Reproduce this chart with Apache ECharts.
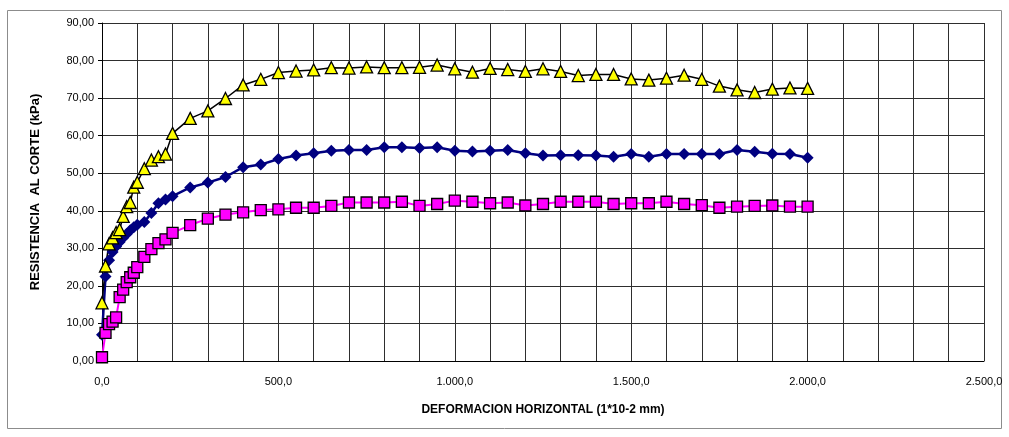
<!DOCTYPE html>
<html>
<head>
    <meta charset="utf-8"/>
    <style>
        html, body { margin: 0; padding: 0; background: #fff; }
        #container { width: 1009px; height: 437px; }
    </style>
</head>
<body>
<div id="container"></div>
<script src="https://cdn.jsdelivr.net/npm/echarts@6/dist/echarts.min.js"></script>
<script type="text/javascript">
    // deformacion horizontal (1*10-2 mm)
    var deformacion = [0, 10, 20, 30, 40, 50, 60, 70, 80, 90, 100, 120, 140, 160, 180, 200,
        250, 300, 350, 400, 450, 500, 550, 600, 650, 700, 750, 800, 850, 900, 950, 1000,
        1050, 1100, 1150, 1200, 1250, 1300, 1350, 1400, 1450, 1500, 1550, 1600, 1650, 1700,
        1750, 1800, 1850, 1900, 1950, 2000];

    // resistencia al corte (kPa)
    var serieRombo = [7.0, 22.5, 26.8, 29.0, 30.5, 31.7, 32.8, 33.8, 34.8, 35.6, 36.3, 37.0, 39.4, 42.0, 43.0, 43.9,
        46.2, 47.5, 49.0, 51.6, 52.3, 53.8, 54.7, 55.3, 56.0, 56.2, 56.2, 56.9, 56.9, 56.7, 56.9, 56.0,
        55.8, 56.0, 56.2, 55.3, 54.7, 54.8, 54.8, 54.7, 54.4, 55.1, 54.4, 55.1, 55.1, 55.1,
        55.1, 56.2, 55.7, 55.2, 55.1, 54.1];
    var serieCuadro = [1.0, 7.5, 9.8, 10.5, 11.6, 17.0, 19.0, 21.0, 22.3, 23.5, 25.0, 27.7, 29.8, 31.4, 32.4, 34.1,
        36.2, 37.9, 39.0, 39.6, 40.2, 40.4, 40.8, 40.8, 41.3, 42.2, 42.2, 42.2, 42.4, 41.3, 41.8, 42.7,
        42.4, 42.0, 42.2, 41.4, 41.8, 42.4, 42.4, 42.4, 41.8, 42.0, 42.0, 42.4, 41.8, 41.5,
        40.8, 41.1, 41.3, 41.4, 41.1, 41.1];
    var serieTriangulo = [15.5, 25.3, 31.2, 32.8, 34.2, 35.0, 38.5, 41.1, 42.2, 46.3, 47.6, 51.2, 53.5, 54.4, 55.1, 60.6,
        64.6, 66.6, 69.9, 73.5, 75.0, 76.8, 77.2, 77.5, 78.1, 78.0, 78.3, 78.1, 78.1, 78.2, 78.8, 77.8,
        76.9, 77.9, 77.6, 77.1, 77.8, 77.1, 76.0, 76.3, 76.3, 75.1, 74.8, 75.3, 76.1, 75.0,
        73.2, 72.2, 71.5, 72.4, 72.7, 72.6];

    function pares(xs, ys) {
        var out = [];
        for (var i = 0; i < xs.length; i++) {
            out.push([xs[i], ys[i]]);
        }
        return out;
    }

    function miles(v, dec) {
        var s = v.toFixed(dec).split('.');
        var ent = s[0].replace(/\B(?=(\d{3})+(?!\d))/g, '.');
        return dec > 0 ? ent + ',' + s[1] : ent;
    }

    var dom = document.getElementById("container");
    var myChart = echarts.init(dom, null, {renderer: 'canvas'});
    var fuente = 'Liberation Sans';

    var option = {
        backgroundColor: '#fff',
        animation: false,
        graphic: [{
            type: 'rect',
            shape: {x: 7.5, y: 10.5, width: 994, height: 418},
            style: {fill: 'none', stroke: '#8c8c8c', lineWidth: 1},
            z: -1
        }],
        grid: {left: 102, right: 25, top: 23, bottom: 76},
        xAxis: {
            type: 'value',
            min: 0,
            max: 2500,
            interval: 100,
            name: 'DEFORMACION HORIZONTAL (1*10-2 mm)',
            nameLocation: 'middle',
            nameGap: 43,
            nameTextStyle: {fontFamily: fuente, fontWeight: 'bold', fontSize: 12, color: '#000'},
            axisLine: {lineStyle: {color: '#000', width: 1}},
            axisTick: {show: false},
            axisLabel: {
                fontFamily: fuente, fontSize: 11, color: '#000', margin: 15,
                formatter: function (v) { return v % 500 === 0 ? miles(v, 1) : ''; }
            },
            splitLine: {show: true, lineStyle: {color: '#2e2e2e', width: 1}}
        },
        yAxis: {
            type: 'value',
            min: 0,
            max: 90,
            interval: 10,
            name: 'RESISTENCIA  AL CORTE (kPa)',
            nameLocation: 'middle',
            nameGap: 60,
            nameTextStyle: {fontFamily: fuente, fontWeight: 'bold', fontSize: 13, color: '#000'},
            axisLine: {show: true, lineStyle: {color: '#000', width: 1}},
            axisTick: {show: true, length: 4, lineStyle: {color: '#000'}},
            axisLabel: {
                fontFamily: fuente, fontSize: 11, color: '#000', margin: 8,
                formatter: function (v) { return miles(v, 2); }
            },
            splitLine: {show: true, lineStyle: {color: '#2e2e2e', width: 1}}
        },
        series: [
            {
                name: 'Muestra 1',
                type: 'line',
                data: pares(deformacion, serieRombo),
                symbol: 'diamond',
                symbolSize: 12,
                lineStyle: {color: '#000080', width: 2.5},
                itemStyle: {color: '#000080', borderWidth: 0}
            },
            {
                name: 'Muestra 2',
                type: 'line',
                data: pares(deformacion, serieCuadro),
                symbol: 'rect',
                symbolSize: 11,
                lineStyle: {color: '#ff00ff', width: 2},
                itemStyle: {color: '#ff00ff', borderColor: '#000', borderWidth: 1.3}
            },
            {
                name: 'Muestra 3',
                type: 'line',
                data: pares(deformacion, serieTriangulo),
                symbol: 'triangle',
                symbolSize: 12,
                lineStyle: {color: '#000', width: 1.5},
                itemStyle: {color: '#ffff00', borderColor: '#000', borderWidth: 1.3}
            }
        ]
    };

    if (option && typeof option === "object") {
        myChart.setOption(option, true);
    }
</script>
</body>
</html>
